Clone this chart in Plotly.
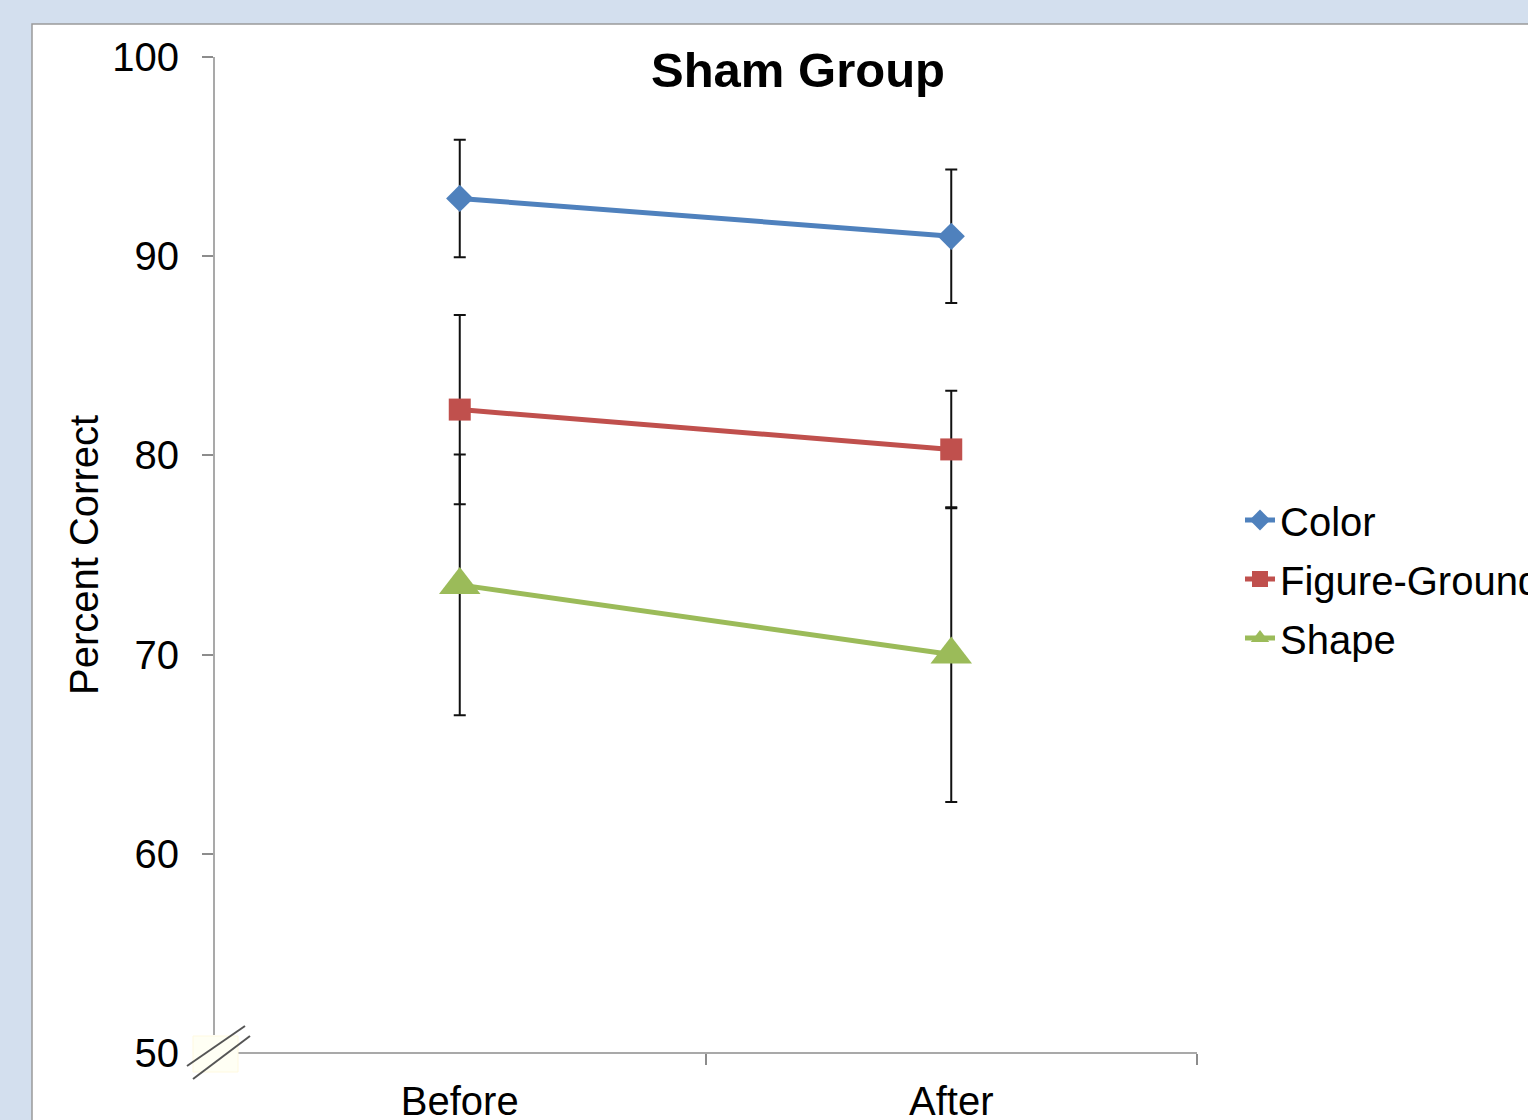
import plotly.graph_objects as go

# ---- data ----
categories = ["Before", "After"]
color_vals = [92.9, 91.0]
color_err = [2.95, 3.35]
figground_vals = [82.3, 80.3]
figground_err = [4.75, 2.95]
shape_vals = [73.5, 70.0]
shape_err = [6.55, 7.4]
y_ticks = [50, 60, 70, 80, 90, 100]

W, H = 1528, 1120
L, R, T, B = 214, 1197, 57, 1053  # plot area in pixels


def px(x):
    return (x - L) / (R - L)


def py(y):
    return (B - y) / (B - T)


FONT = "Liberation Sans, Arial, sans-serif"

fig = go.Figure()
series = [
    ("Color", color_vals, color_err, "#4F81BD", "diamond", 21),
    ("Figure-Ground", figground_vals, figground_err, "#C0504D", "square", 22),
    ("Shape", shape_vals, shape_err, "#9BBB59", "triangle-up", 36),
]
for name, vals, err, col, sym, size in series:
    fig.add_trace(go.Scatter(
        x=categories, y=vals, name=name, legendgroup=name,
        mode="lines+markers",
        line=dict(color=col, width=5),
        marker=dict(symbol=sym, size=size, color=col),
        error_y=dict(type="data", array=err, visible=True,
                     color="#111111", thickness=2, width=6),
    ))

shapes = [
    # white chart panel
    dict(type="rect", xref="paper", yref="paper", layer="below",
         x0=px(32), x1=px(1600), y0=py(1200), y1=py(24),
         fillcolor="white", line=dict(color="#9A9A9A", width=1.5)),
    # axis lines
    dict(type="line", xref="paper", yref="paper", x0=0, x1=0,
         y0=py(1035), y1=1, line=dict(color="#8C8C8C", width=1.5)),
    dict(type="line", xref="paper", yref="paper", x0=px(238), x1=1,
         y0=0, y1=0, line=dict(color="#8C8C8C", width=1.5)),
    # axis break marker
    dict(type="rect", xref="paper", yref="paper",
         x0=px(193), x1=px(238), y0=py(1072), y1=py(1036),
         fillcolor="#FFFFF4", line=dict(color="#FFF9E0", width=1)),
    dict(type="line", xref="paper", yref="paper",
         x0=px(187), y0=py(1066), x1=px(245), y1=py(1026),
         line=dict(color="#555555", width=2)),
    dict(type="line", xref="paper", yref="paper",
         x0=px(193), y0=py(1079), x1=px(250), y1=py(1036),
         line=dict(color="#555555", width=2)),
]

fig.update_layout(
    width=W, height=H,
    margin=dict(l=L, r=W - R, t=T, b=H - B, autoexpand=False),
    paper_bgcolor="#D3DFEE",
    plot_bgcolor="rgba(0,0,0,0)",
    font=dict(family=FONT, size=40, color="black"),
    title=dict(text="<b>Sham Group</b>", font=dict(size=49, family=FONT),
               x=798 / W, xref="container", xanchor="center",
               y=1 - 70 / H, yref="container", yanchor="middle"),
    showlegend=True,
    legend=dict(x=px(1240), xanchor="left", y=py(579), yanchor="middle",
                bgcolor="rgba(0,0,0,0)", font=dict(size=40, family=FONT),
                tracegroupgap=4, itemsizing="trace"),
    shapes=shapes,
    annotations=[dict(text="Percent Correct", xref="paper", yref="paper",
                      x=px(84), y=py(555), textangle=-90, showarrow=False,
                      xanchor="center", yanchor="middle",
                      font=dict(size=40, family=FONT))],
)

fig.update_yaxes(range=[50, 100], tickvals=y_ticks, ticks="outside",
                 ticklen=11, tickwidth=1.5, tickcolor="#8C8C8C",
                 showgrid=False, zeroline=False, showline=False,
                 automargin=False,
                 ticklabelstandoff=15, tickfont=dict(size=40))
fig.update_xaxes(type="category", categoryarray=categories,
                 range=[-0.5, 1.5], tickson="boundaries", ticks="outside",
                 ticklen=11, tickwidth=1.5, tickcolor="#8C8C8C",
                 showgrid=False, zeroline=False, showline=False,
                 automargin=False,
                 ticklabelstandoff=21, tickfont=dict(size=40))

fig.write_html(
    "out.html",
    config={"displayModeBar": False, "responsive": False},
    post_script="document.body.style.margin='0';"
                "document.body.style.background='#D3DFEE';",
)
